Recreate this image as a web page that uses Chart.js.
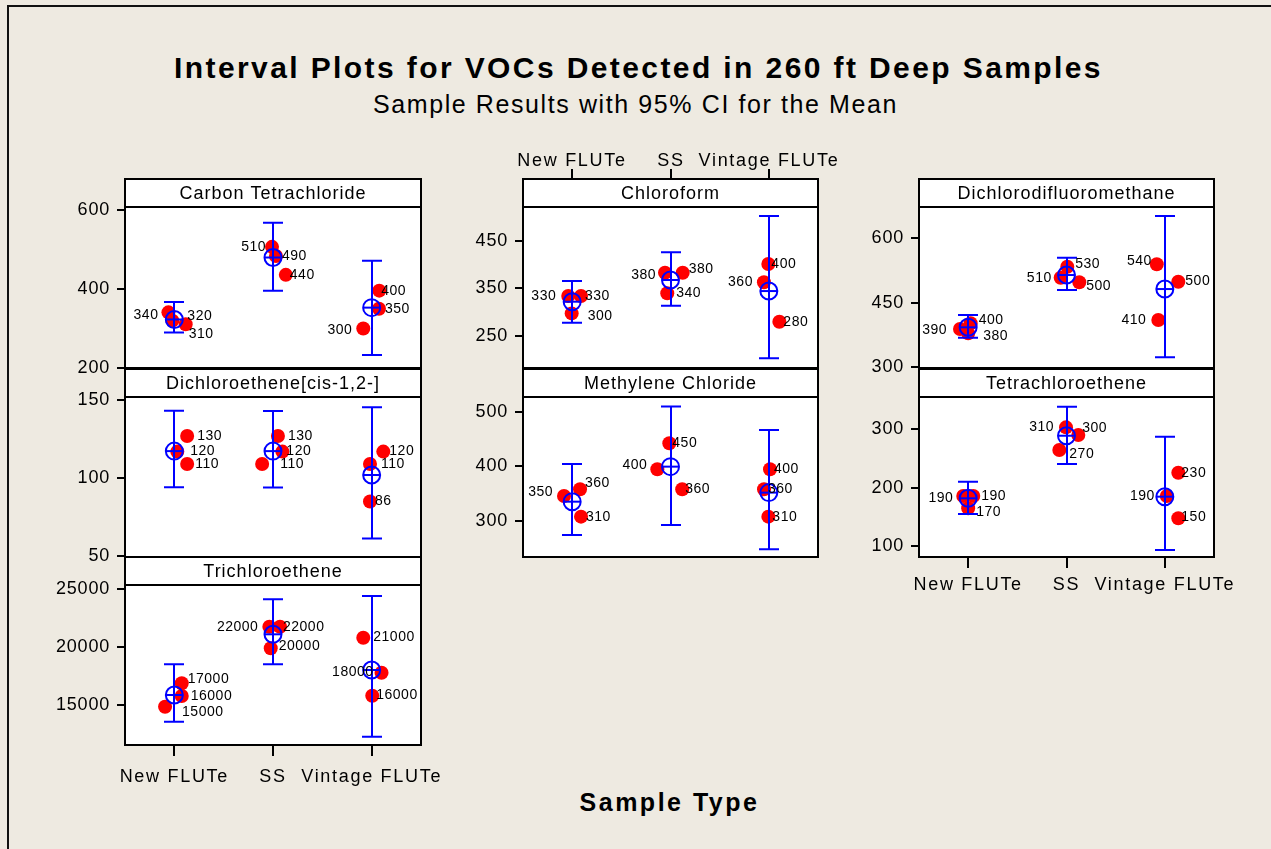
<!DOCTYPE html>
<html><head><meta charset="utf-8">
<script src="https://cdn.jsdelivr.net/npm/chart.js@4.4.1/dist/chart.umd.min.js"></script>
<style>
html,body{margin:0;padding:0;background:#EEEAE1;}
#wrap{position:relative;width:1271px;height:849px;overflow:hidden;background:#EEEAE1;font-family:"Liberation Sans",Arial,sans-serif;color:#000;}
#wrap canvas{position:absolute;left:0;top:0;}
#frame{position:absolute;left:7px;top:5px;width:1270px;height:850px;border-top:2px solid #111;border-left:2px solid #111;}
.t{position:absolute;left:0;width:1271px;text-align:center;white-space:nowrap;}
#title{top:51px;left:3px;font-size:30px;font-weight:bold;line-height:34px;letter-spacing:2.4px;}
#sub{top:89px;font-size:25px;line-height:30px;letter-spacing:1.6px;}
#xt{top:786px;left:34px;font-size:25px;font-weight:bold;line-height:32px;letter-spacing:2.5px;}
</style></head>
<body><div id="wrap">
<div id="frame"></div>
<div class="t" id="title">Interval Plots for VOCs Detected in 260 ft Deep Samples</div>
<div class="t" id="sub">Sample Results with 95% CI for the Mean</div>
<div class="t" id="xt">Sample Type</div>
<canvas id="c0" width="1271" height="849"></canvas>
<canvas id="c1" width="1271" height="849"></canvas>
<canvas id="c2" width="1271" height="849"></canvas>
<canvas id="c3" width="1271" height="849"></canvas>
<canvas id="c4" width="1271" height="849"></canvas>
<canvas id="c5" width="1271" height="849"></canvas>
<canvas id="c6" width="1271" height="849"></canvas>
</div>
<script>
// ---------------- DATA ----------------
const categories = ['New FLUTe', 'SS', 'Vintage FLUTe'];
const pointGroup = [1, 1, 1, 2, 2, 2, 3, 3, 3];

// Carbon Tetrachloride
const ctJitter = [-0.06, -0.02, 0.115, -0.01, 0.03, 0.13, 0.077, 0.074, -0.085];
const ctValues = [341, 320, 311, 507, 484, 436, 396, 350, 300];
const ctText = ['340', '320', '310', '510', '490', '440', '400', '350', '300'];
const ctMean = [323, 480, 353];
const ctLow = [290, 396, 233];
const ctHigh = [367, 568, 472];
const ctTicks = [200, 400, 600];

// Dichloroethene[cis-1,2-]
const dceJitter = [0.13, 0.03, 0.13, 0.05, 0.095, -0.11, 0.118, -0.017, -0.017];
const dceValues = [127, 117, 109, 127, 117, 109, 117, 109, 85];
const dceText = ['130', '120', '110', '130', '120', '110', '120', '110', '86'];
const dceMean = [117.3, 117.3, 102];
const dceLow = [94.2, 94, 61.3];
const dceHigh = [143.2, 143, 145.5];
const dceTicks = [50, 100, 150];

// Trichloroethene
const tceJitter = [-0.094, 0.075, 0.075, -0.037, 0.071, -0.023, -0.085, 0.1, 0.006];
const tceValues = [14853, 15778, 16876, 21768, 21768, 19900, 20817, 17792, 15804];
const tceText = ['15000', '16000', '17000', '22000', '22000', '20000', '21000', '18000', '16000'];
const tceMean = [15864, 21110, 18025];
const tceLow = [13557, 18518, 12260];
const tceHigh = [18518, 24136, 24421];
const tceTicks = [15000, 20000, 25000];

// Chloroform
const chlJitter = [-0.04, 0.09, -0.005, -0.056, 0.124, -0.033, -0.005, -0.05, 0.107];
const chlValues = [333.6, 333.6, 297, 382.6, 382.6, 339.3, 401, 362.4, 279.5];
const chlText = ['330', '330', '300', '380', '380', '340', '400', '360', '280'];
const chlMean = [321.6, 367.3, 344];
const chlLow = [277.4, 313, 202.4];
const chlHigh = [365, 425.5, 502];
const chlTicks = [250, 350, 450];

// Methylene Chloride
const mcJitter = [-0.083, 0.08, 0.09, -0.012, -0.134, 0.119, 0.012, -0.049, -0.005];
const mcValues = [345.6, 357.9, 307.4, 442.8, 394.8, 357.9, 394.8, 357.9, 307.4];
const mcText = ['350', '360', '310', '450', '400', '360', '400', '360', '310'];
const mcMean = [335, 399.6, 351.7];
const mcLow = [273.6, 292, 247.2];
const mcHigh = [404.6, 510.3, 467.3];
const mcTicks = [300, 400, 500];

// Dichlorodifluoromethane
const dcfJitter = [-0.083, 0.025, 0, 0.008, -0.059, 0.13, -0.082, 0.137, -0.066];
const dcfValues = [389, 402.3, 379, 534, 508.4, 497.7, 539.5, 499, 410];
const dcfText = ['390', '400', '380', '530', '510', '500', '540', '500', '410'];
const dcfMean = [393, 514.6, 482];
const dcfLow = [368.8, 479.8, 323.3];
const dcfHigh = [421.6, 554.9, 651.9];
const dcfTicks = [300, 450, 600];

// Tetrachloroethene
const pceJitter = [-0.05, 0.052, 0, -0.005, 0.12, -0.073, 0.137, 0.02, 0.137];
const pceValues = [185.7, 185.7, 164.6, 303.4, 290.2, 264.5, 225.6, 185.7, 147.5];
const pceText = ['190', '190', '170', '310', '300', '270', '230', '190', '150'];
const pceMean = [181.7, 289, 184.5];
const pceLow = [154.8, 240.5, 93.1];
const pceHigh = [210.2, 338.7, 287.3];
const pceTicks = [100, 200, 300];

// ---------------- PRESENTATION ----------------
const FONT = '"Liberation Sans", Arial, sans-serif';
const BLUE = '#0000FF';
const RED = '#FF0000';
const HEADER = 28;
const W = 1271, H = 849;

// label offsets [dx, dy] in px (negative dx = label to the left)
const ctPlace = [[-10,3],[15,-5],[3,10],[-6,0],[6,0],[4,0],[2,0],[6,0],[-11,2]];
const dcePlace = [[10,0],[13,0],[8,0],[10,0],[4,0],[18,0],[6,0],[11,0],[5,0]];
const tcePlace = [[17,5],[9,0],[6,-4],[-11,0],[3,0],[8,-2],[10,-1],[-8,-1],[4,-1]];
const chlPlace = [[-12,0],[4,0],[16,3],[-9,2],[6,-4],[9,0],[3,0],[-11,0],[4,0]];
const mcPlace = [[-11,-4],[5,-6],[5,0],[3,0],[-10,-4],[3,0],[4,0],[4,0],[4,0]];
const dcfPlace = [[-13,1],[8,-3],[15,3],[8,-3],[-9,0],[7,4],[-5,-3],[7,-1],[-12,0]];
const pcePlace = [[-10,2],[8,0],[8,4],[-12,0],[4,-7],[10,4],[3,0],[-12,0],[3,-1]];

const COL = [{L:125, R:421}, {L:523, R:818}, {L:919, R:1214}];
const ROW = [{T:207, B:368}, {T:397, B:557}, {T:585, B:745}];

function makePanel(id, o) {
  const pts = o.values.map((v, i) => ({x: pointGroup[i] + o.jitter[i], y: v}));
  const mpts = o.mean.map((v, i) => ({x: i + 1, y: v}));
  const L = o.col.L, R = o.col.R, T = o.row.T, B = o.row.B;
  const xH = o.bottomAxis ? 50 : 0;
  const deco = {
    id: 'deco',
    beforeDraw(chart) {
      const ctx = chart.ctx, a = chart.chartArea;
      ctx.letterSpacing = '0.8px';
      ctx.save();
      ctx.fillStyle = '#fff';
      ctx.fillRect(a.left, a.top - HEADER, a.right - a.left, a.bottom - a.top + HEADER);
      ctx.restore();
    },
    afterDatasetDraw(chart, args) {
      if (args.index !== 0) return;
      const ctx = chart.ctx, xs = chart.scales.x, ys = chart.scales.y;
      ctx.save();
      ctx.strokeStyle = BLUE; ctx.lineWidth = 2;
      for (let i = 0; i < 3; i++) {
        const x = Math.round(xs.getPixelForValue(i + 1));
        const y1 = ys.getPixelForValue(o.low[i]), y2 = ys.getPixelForValue(o.high[i]);
        ctx.beginPath();
        ctx.moveTo(x, y1); ctx.lineTo(x, y2);
        ctx.moveTo(x - 10, y1); ctx.lineTo(x + 10, y1);
        ctx.moveTo(x - 10, y2); ctx.lineTo(x + 10, y2);
        ctx.stroke();
      }
      ctx.restore();
    },
    afterDatasetsDraw(chart) {
      const ctx = chart.ctx, xs = chart.scales.x, ys = chart.scales.y, a = chart.chartArea;
      ctx.save();
      ctx.letterSpacing = '0.5px';
      ctx.font = '14px ' + FONT;
      ctx.fillStyle = '#000';
      ctx.textBaseline = 'middle';
      pts.forEach((p, i) => {
        const px = xs.getPixelForValue(p.x), py = ys.getPixelForValue(p.y);
        const [dx, dy] = o.place[i];
        ctx.textAlign = dx < 0 ? 'right' : 'left';
        ctx.fillText(o.text[i], px + dx, py + dy);
      });
      // frames
      ctx.strokeStyle = '#000'; ctx.lineWidth = 2;
      ctx.strokeRect(a.left, a.top - HEADER, a.right - a.left, a.bottom - a.top + HEADER);
      ctx.beginPath(); ctx.moveTo(a.left, a.top); ctx.lineTo(a.right, a.top); ctx.stroke();
      // header text
      ctx.letterSpacing = '1px';
      ctx.font = '18px ' + FONT;
      ctx.textAlign = 'center';
      ctx.fillText(o.title, (a.left + a.right) / 2, a.top - HEADER / 2 + 1);
      // top axis
      if (o.topAxis) {
        const yTop = a.top - HEADER;
        ctx.letterSpacing = '1.7px';
        categories.forEach((c, i) => {
          const x = Math.round(xs.getPixelForValue(i + 1));
          ctx.beginPath(); ctx.moveTo(x, yTop); ctx.lineTo(x, yTop - 10); ctx.stroke();
          ctx.fillText(c, x, yTop - 18);
        });
      }
      ctx.restore();
      // wider spacing for the category axis labels drawn afterwards (ticks.z = 1)
      ctx.letterSpacing = '1.7px';
    }
  };
  return new Chart(document.getElementById(id), {
    type: 'scatter',
    data: {
      datasets: [
        {data: pts, pointStyle: 'circle', pointRadius: 7, pointHoverRadius: 7, backgroundColor: RED, borderWidth: 0, order: 10},
        {data: mpts, pointStyle: 'circle', pointRadius: 8.5, pointHoverRadius: 8.5, backgroundColor: 'rgba(0,0,0,0)', borderColor: BLUE, borderWidth: 2, order: 2},
        {data: mpts, pointStyle: 'line', pointRadius: 8.5, pointHoverRadius: 8.5, borderColor: BLUE, borderWidth: 2, order: 1}
      ]
    },
    options: {
      responsive: false, animation: false, devicePixelRatio: 1,
      events: [],
      layout: {padding: {left: L - 100, top: T, right: W - R, bottom: H - B - xH}},
      plugins: {legend: {display: false}, tooltip: {enabled: false}, title: {display: false}},
      scales: {
        x: {
          type: 'linear', min: 0.5, max: 3.5, display: !!o.bottomAxis,
          afterBuildTicks: s => { s.ticks = categories.map((c, i) => ({value: i + 1})); },
          afterFit: s => { s.height = xH; },
          grid: {drawOnChartArea: false, drawTicks: true, tickLength: 11, color: '#000', lineWidth: 2},
          border: {display: false},
          ticks: {z: 1, callback: v => categories[Math.round(v) - 1], color: '#000', font: {family: FONT, size: 18}, padding: o.xPad, maxRotation: 0, autoSkip: false}
        },
        y: {
          type: 'linear', min: o.yMin, max: o.yMax,
          afterBuildTicks: s => { s.ticks = o.ticks.map(v => ({value: v})); },
          afterFit: s => { s.width = 100; },
          grid: {drawOnChartArea: false, drawTicks: true, tickLength: 8, color: '#000', lineWidth: 2},
          border: {display: false},
          ticks: {callback: v => String(v), color: '#000', font: {family: FONT, size: 18}, padding: 7}
        }
      }
    },
    plugins: [deco]
  });
}

makePanel('c0', {title: 'Carbon Tetrachloride', col: COL[0], row: ROW[0], jitter: ctJitter, values: ctValues, text: ctText,
  mean: ctMean, low: ctLow, high: ctHigh, ticks: ctTicks, yMin: 200, yMax: 608, place: ctPlace});
makePanel('c1', {title: 'Dichloroethene[cis-1,2-]', col: COL[0], row: ROW[1], jitter: dceJitter, values: dceValues, text: dceText,
  mean: dceMean, low: dceLow, high: dceHigh, ticks: dceTicks, yMin: 49.4, yMax: 152, place: dcePlace});
makePanel('c2', {title: 'Trichloroethene', col: COL[0], row: ROW[2], jitter: tceJitter, values: tceValues, text: tceText,
  mean: tceMean, low: tceLow, high: tceHigh, ticks: tceTicks, yMin: 11543, yMax: 25372, place: tcePlace, bottomAxis: true, xPad: 10});
makePanel('c3', {title: 'Chloroform', col: COL[1], row: ROW[0], jitter: chlJitter, values: chlValues, text: chlText,
  mean: chlMean, low: chlLow, high: chlHigh, ticks: chlTicks, yMin: 182, yMax: 521, place: chlPlace, topAxis: true});
makePanel('c4', {title: 'Methylene Chloride', col: COL[1], row: ROW[1], jitter: mcJitter, values: mcValues, text: mcText,
  mean: mcMean, low: mcLow, high: mcHigh, ticks: mcTicks, yMin: 233, yMax: 528, place: mcPlace});
makePanel('c5', {title: 'Dichlorodifluoromethane', col: COL[2], row: ROW[0], jitter: dcfJitter, values: dcfValues, text: dcfText,
  mean: dcfMean, low: dcfLow, high: dcfHigh, ticks: dcfTicks, yMin: 298.4, yMax: 672.8, place: dcfPlace});
makePanel('c6', {title: 'Tetrachloroethene', col: COL[2], row: ROW[1], jitter: pceJitter, values: pceValues, text: pceText,
  mean: pceMean, low: pceLow, high: pceHigh, ticks: pceTicks, yMin: 81.1, yMax: 355.4, place: pcePlace, bottomAxis: true, xPad: 6});
</script>
</body></html>
